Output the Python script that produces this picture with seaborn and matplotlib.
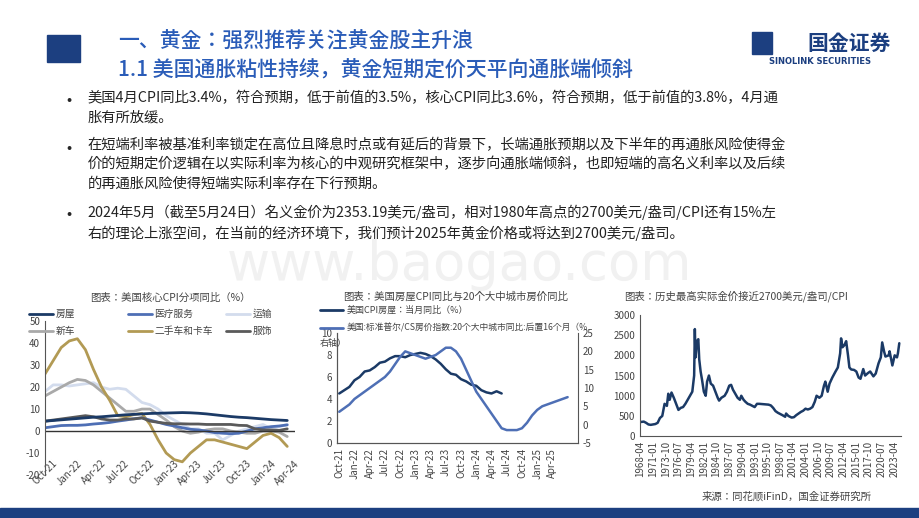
import matplotlib
matplotlib.use("Agg")
import matplotlib.pyplot as plt
import seaborn as sns
import pandas as pd
import numpy as np
from matplotlib.patches import Rectangle

sns.set_style("white")
plt.rcParams["font.family"] = ["Noto Sans CJK JP", "DejaVu Sans"]
plt.rcParams["axes.unicode_minus"] = False

# ---- Chart 1 data: core CPI components YoY (%), Oct-21 .. Apr-24
months1 = pd.date_range("2021-10-01", "2024-04-01", freq="MS")
housing = [4.5,4.8,5.1,5.4,5.7,6.0,6.3,6.5,6.8,7.1,7.4,7.6,7.8,8.0,8.1,8.2,8.3,8.4,8.3,8.1,7.8,7.4,7.0,6.6,6.3,6.1,5.8,5.5,5.2,5.0,4.8]
medical = [1.5,2.0,2.5,2.6,2.6,2.8,3.2,3.5,3.9,4.5,5.0,5.6,6.0,5.0,4.0,3.0,2.3,1.5,0.8,0.5,0.0,-0.7,-1.0,-1.2,-1.0,0.0,1.0,1.5,2.0,2.3,2.8]
transport = [18,21,21,20.5,21,21.5,22,20,19,19.5,19,16,13,12,10,7,5,3,1,1,-1,-1,-4,-2,0,1,2,3,1,2,3]
newcar = [16,18,20,22,23.5,23,21,18,15,12,9,9,10,10,7.5,5,2,0,-1,-0.5,0.5,1,1,0,-0.5,-1,-1,0,0,-0.5,-2.5]
usedcar = [26,32,38,41,42,37,28,20,14,7,6.5,7.5,8,3,-4,-10,-13,-14,-10,-7,-4,-4,-5,-6,-7,-8,-5,-2,-1,-3,-7]
apparel = [4.5,5,5.5,6,6.5,7,6.5,5.5,5,5,5.5,5.5,6,4.5,4,3.5,3.3,3.3,3.2,3.2,3.0,3.0,3.0,3.0,2.6,2.5,1.0,0.5,0.5,0.3,1.0]
names1 = ["房屋","医疗服务","运输","新车","二手车和卡车","服饰"]
colors1 = ["#1b3a66","#4e6fb5","#d3dced","#a9a9a9","#b29a54","#5a5a5a"]
ticks1 = ["Oct-21","Jan-22","Apr-22","Jul-22","Oct-22","Jan-23","Apr-23","Jul-23","Oct-23","Jan-24","Apr-24"]

# ---- Chart 2 data
months2 = pd.date_range("2021-10-01", "2025-07-01", freq="MS")
cpi_house = [4.5,4.8,5.1,5.7,6.0,6.5,6.6,6.9,7.3,7.4,7.7,7.9,7.9,7.8,8.0,8.1,8.2,8.1,7.9,7.6,7.2,6.7,6.3,6.2,5.8,5.6,5.3,5.2,4.8,4.6,4.5,4.7,4.5]
cs20 = [3.5,4.5,5.5,7,8,9,10,11,12,13,14.5,16.5,18.5,20,19.5,19,18.5,18,18.5,19,20,21,21,20,18,15,12,9,7,5,3,1,-1,-1.5,-1.5,-1.5,-1,0.5,2.5,4,5,5.5,6,6.5,7,7.5]
ticks2 = ["Oct-21","Jan-22","Apr-22","Jul-22","Oct-22","Jan-23","Apr-23","Jul-23","Oct-23","Jan-24","Apr-24","Jul-24","Oct-24","Jan-25","Apr-25"]

# ---- Chart 3 data: real gold price (USD/oz / CPI)
gold_t = [1968.3,1969,1969.5,1970,1970.5,1971,1971.5,1972,1972.5,1973,1973.5,1974,1974.3,1974.6,1975,1975.5,1976,1976.5,1977,1977.5,1978,1978.5,1979,1979.5,1979.9,1980.05,1980.2,1980.5,1980.8,1981,1981.3,1981.6,1982,1982.4,1982.7,1983.1,1983.5,1984,1984.5,1985,1985.3,1985.8,1986.5,1987,1987.5,1987.9,1988.3,1988.8,1989.3,1989.8,1990.1,1990.6,1991,1991.5,1992,1992.5,1993,1993.5,1994,1995,1996,1996.5,1997,1997.5,1998,1998.5,1999,1999.6,1999.8,2000.3,2001,2001.5,2002,2002.5,2003,2003.5,2004,2004.5,2005,2005.5,2006,2006.4,2007,2007.5,2008,2008.3,2008.8,2009.2,2009.8,2010.5,2011,2011.5,2011.7,2012,2012.4,2012.8,2013.2,2013.5,2013.9,2014.5,2015,2015.5,2015.9,2016.5,2016.9,2017.5,2018,2018.7,2019.2,2019.8,2020.3,2020.6,2021,2021.3,2022,2022.2,2022.8,2023.3,2023.8,2024,2024.3]
gold_v = [350,360,330,290,280,290,300,330,450,500,800,750,1050,900,1080,950,800,650,700,720,800,900,1000,1100,1500,2650,1950,2350,2400,1900,1600,1400,1100,1000,1350,1500,1300,1250,1100,950,880,950,1000,1100,1250,1270,1150,1050,950,900,1000,900,850,800,780,750,720,800,800,790,780,760,700,620,580,550,520,480,560,500,460,470,520,560,600,630,680,660,680,720,850,1000,950,1000,1250,1350,1100,1300,1450,1600,1700,2050,2420,2200,2250,2350,2000,1700,1650,1640,1600,1450,1420,1660,1500,1560,1600,1480,1550,1800,1950,2320,2100,1970,2000,2100,1750,2000,1950,2050,2300]
ticks3 = ["1968-04","1971-01","1973-10","1976-07","1979-04","1982-01","1984-10","1987-07","1990-04","1993-01","1995-10","1998-07","2001-04","2004-01","2006-10","2009-07","2012-04","2015-01","2017-10","2020-07","2023-04"]

fig = plt.figure(figsize=(9.2, 5.18), dpi=100)
fig.patch.set_facecolor("white")

fig.text(0.5, 1-265/518, "www.baogao.com", fontsize=38, color="#f1f1f1", ha="center", va="center", zorder=0, fontfamily="DejaVu Sans")

# header
fig.add_artist(Rectangle((0.051, 1-62/518), 0.036, 27/518, transform=fig.transFigure, color="#1c3f80"))
blue = "#2a5cb8"
fig.text(0.128, 1-42/518, "一、黄金：强烈推荐关注黄金股主升浪", fontsize=15, color=blue, va="center", weight="medium")
fig.text(0.128, 1-70/518, "1.1 美国通胀粘性持续，黄金短期定价天平向通胀端倾斜", fontsize=15, color=blue, va="center", weight="medium")
fig.text(0.878, 1-43/518, "国金证券", fontsize=15, color="#1c3f80", va="center", weight="bold")
fig.text(0.836, 1-61/518, "SINOLINK SECURITIES", fontsize=6, color="#1c3f80", va="center", weight="bold", fontfamily="DejaVu Sans")
fig.add_artist(Rectangle((0.817, 1-54/518), 0.022, 22/518, transform=fig.transFigure, color="#1c3f80"))

bullets = [
    (101, "美国4月CPI同比3.4%，符合预期，低于前值的3.5%，核心CPI同比3.6%，符合预期，低于前值的3.8%，4月通\n胀有所放缓。"),
    (148, "在短端利率被基准利率锁定在高位且降息时点或有延后的背景下，长端通胀预期以及下半年的再通胀风险使得金\n价的短期定价逻辑在以实际利率为核心的中观研究框架中，逐步向通胀端倾斜，也即短端的高名义利率以及后续\n的再通胀风险使得短端实际利率存在下行预期。"),
    (215, "2024年5月（截至5月24日）名义金价为2353.19美元/盎司，相对1980年高点的2700美元/盎司/CPI还有15%左\n右的理论上涨空间，在当前的经济环境下，我们预计2025年黄金价格或将达到2700美元/盎司。"),
]
for y, t in bullets:
    fig.text(0.072, 1-y/518, "•", fontsize=11, va="center")
    fig.text(0.095, 1-(y-10)/518, t, fontsize=10.3, va="top", linespacing=1.45, color="#222")

# ---- chart 1
ax1 = fig.add_axes([0.049, 0.083, 0.272, 0.297])
df1 = pd.DataFrame({"m": np.tile(np.arange(len(months1)), 6),
                    "v": housing+medical+transport+newcar+usedcar+apparel,
                    "s": np.repeat(names1, len(months1))})
order = ["运输","新车","二手车和卡车","医疗服务","服饰","房屋"]
sns.lineplot(data=df1, x="m", y="v", hue="s", hue_order=order,
             palette=dict(zip(names1, colors1)), lw=2, ax=ax1, legend=False)
ax1.set_ylim(-20, 50); ax1.set_xlim(0, 31)
ax1.set_yticks(range(-20, 51, 10))
ax1.set_xticks(range(0, 31, 3)); ax1.set_xticklabels(ticks1, rotation=45, fontsize=7, color="#444", ha="center")
ax1.tick_params(axis="y", labelsize=7, colors="#444", length=0)
ax1.tick_params(axis="x", length=0, pad=-12)
ax1.axhline(0, color="#333", lw=1)
for s in ["top", "right", "bottom"]:
    ax1.spines[s].set_visible(False)
ax1.spines["left"].set_color("#555")
ax1.set_xlabel(""); ax1.set_ylabel("")
fig.text(0.185, 1-298/518, "图表：美国核心CPI分项同比（%）", fontsize=7.5, color="#444", ha="center", va="center")
for i, (n, c) in enumerate(zip(names1, colors1)):
    x = 0.032 + (i % 3) * 0.107; y = 1-(314 if i < 3 else 331)/518
    fig.add_artist(plt.Line2D([x, x+0.026], [y, y], color=c, lw=2, transform=fig.transFigure))
    fig.text(x+0.029, y, n, fontsize=7, va="center", color="#444")

# ---- chart 2
ax2 = fig.add_axes([0.366, 0.145, 0.262, 0.212])
d2a = pd.DataFrame({"m": np.arange(len(cpi_house)), "v": cpi_house})
d2b = pd.DataFrame({"m": np.arange(len(cs20)), "v": cs20})
sns.lineplot(data=d2a, x="m", y="v", color="#1b3a66", lw=1.8, ax=ax2)
ax2.set_ylim(0, 10); ax2.set_xlim(-0.5, 47)
ax2.set_yticks(range(0, 11, 2))
ax2r = ax2.twinx()
sns.lineplot(data=d2b, x="m", y="v", color="#4e6fb5", lw=1.8, ax=ax2r)
ax2r.set_ylim(-5, 25)
ax2r.set_yticks(range(-5, 26, 5))
ax2.set_xticks(range(0, 45, 3)); ax2.set_xticklabels(ticks2, rotation=90, fontsize=7, color="#444")
for a in (ax2, ax2r):
    a.tick_params(labelsize=7, colors="#444", length=0)
    a.set_xlabel(""); a.set_ylabel("")
    a.spines["top"].set_visible(False)
    for s in ["left", "right", "bottom"]:
        a.spines[s].set_color("#555")
ax2.spines["right"].set_visible(False)
fig.text(0.495, 1-296/518, "图表：美国房屋CPI同比与20个大中城市房价同比", fontsize=7.5, color="#444", ha="center", va="center")
fig.add_artist(plt.Line2D([0.348, 0.373], [1-310/518]*2, color="#1b3a66", lw=2, transform=fig.transFigure))
fig.text(0.377, 1-310/518, "美国CPI房屋：当月同比（%）", fontsize=6.5, va="center", color="#444")
fig.add_artist(plt.Line2D([0.348, 0.373], [1-328/518]*2, color="#4e6fb5", lw=2, transform=fig.transFigure))
fig.text(0.377, 1-328/518, "美国:标准普尔/CS房价指数:20个大中城市同比:后置16个月（%", fontsize=6.3, va="center", color="#444")
fig.text(0.348, 1-343/518, "右轴）", fontsize=6.5, va="center", color="#444")

# ---- chart 3
ax3 = fig.add_axes([0.696, 0.158, 0.283, 0.234])
d3 = pd.DataFrame({"t": gold_t, "v": gold_v})
sns.lineplot(data=d3, x="t", y="v", color="#1b3a66", lw=1.8, ax=ax3)
ax3.set_ylim(0, 3000); ax3.set_xlim(1968.3, 2024.6)
pos3 = [int(s[:4]) + (int(s[5:]) - 1) / 12 for s in ticks3]
ax3.set_xticks(pos3); ax3.set_xticklabels(ticks3, rotation=90, fontsize=6.5, color="#444")
ax3.set_yticks(range(0, 3001, 500))
ax3.tick_params(labelsize=7, colors="#444", length=0)
ax3.set_xlabel(""); ax3.set_ylabel("")
for s in ["top", "right"]:
    ax3.spines[s].set_visible(False)
for s in ["left", "bottom"]:
    ax3.spines[s].set_color("#555")
fig.text(0.80, 1-296/518, "图表：历史最高实际金价接近2700美元/盎司/CPI", fontsize=7.5, color="#444", ha="center", va="center")
fig.text(0.855, 1-497/518, "来源：同花顺iFinD，国金证券研究所", fontsize=7.5, color="#444", ha="center", va="center")
fig.add_artist(Rectangle((0, 0), 1, 10/518, transform=fig.transFigure, color="#1c3f80"))

fig.savefig("out.png", dpi=100)
